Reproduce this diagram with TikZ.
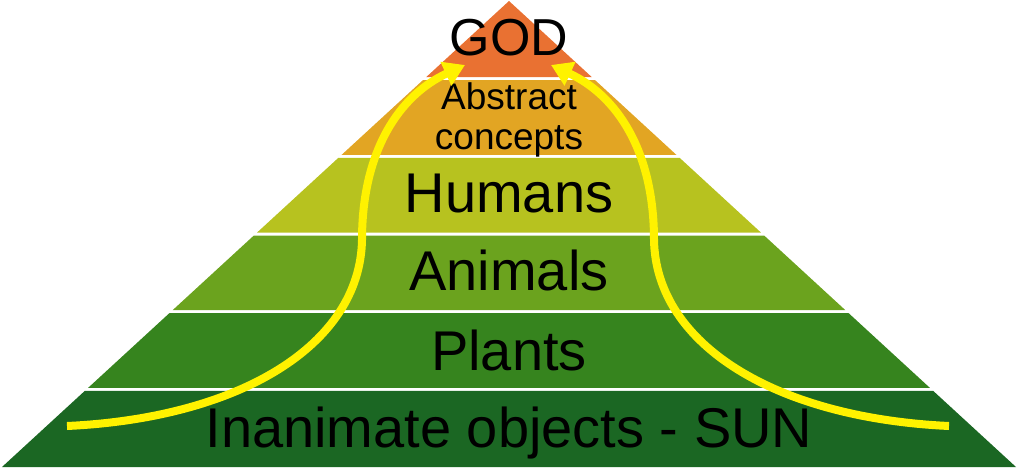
\documentclass[tikz,border=0pt]{standalone}
\usepackage{fontspec}
\setmainfont{Liberation Sans}
\usetikzlibrary{arrows.meta}
\definecolor{godorange}{HTML}{E97132}
\definecolor{abstractgold}{HTML}{E2A523}
\definecolor{humansgreen}{HTML}{B7C21F}
\definecolor{animalsgreen}{HTML}{6BA31E}
\definecolor{plantsgreen}{HTML}{36841E}
\definecolor{sungreen}{HTML}{1B6723}

\begin{document}
\begin{tikzpicture}[x=1pt,y=-1pt,lbl/.style={anchor=base,font=\fontsize{56}{60}\selectfont},arr/.style={draw=yellow,line width=8pt,-{Triangle[length=21pt,width=25pt]}}]
\useasboundingbox (0,0) rectangle (1018,469);
% pyramid layers, top to bottom
\foreach \k/\col in {0/godorange,1/abstractgold,2/humansgreen,3/animalsgreen,4/plantsgreen,5/sungreen}{
  \pgfmathsetmacro{\ya}{1+\k*77.67+(\k>0)*1.5}
  \pgfmathsetmacro{\yb}{1+(\k+1)*77.67-(\k<5)*1.5}
  \pgfmathsetmacro{\wa}{(\ya-1)*1.088}
  \pgfmathsetmacro{\wb}{(\yb-1)*1.088}
  \fill[\col] (509-\wa,\ya) -- (509+\wa,\ya) -- (509+\wb,\yb) -- (509-\wb,\yb) -- cycle;
}
\node[lbl,font=\fontsize{52}{56}\selectfont] (god) at (509,55) {GOD};
\node[align=center,font=\fontsize{37}{40}\selectfont] (abstract) at (509,120) {Abstract\\concepts};
\node[lbl] (humans) at (509,212) {Humans};
\node[lbl] (animals) at (509,290) {Animals};
\node[lbl] (plants) at (509,370) {Plants};
\node[lbl] (sun) at (509,447) {Inanimate objects - SUN};
% arrows
\coordinate (lstart) at (67,426);
\coordinate (ltip) at (465,65);
\coordinate (rstart) at (949,426);
\coordinate (rtip) at (551,65);
\draw[arr] (lstart) .. controls (240,418) and (360,345) .. (362,240) .. controls (362,150) and (400,95) .. (ltip);
\draw[arr] (rstart) .. controls (776,418) and (656,345) .. (654,240) .. controls (654,150) and (616,95) .. (rtip);
\end{tikzpicture}
\end{document}
